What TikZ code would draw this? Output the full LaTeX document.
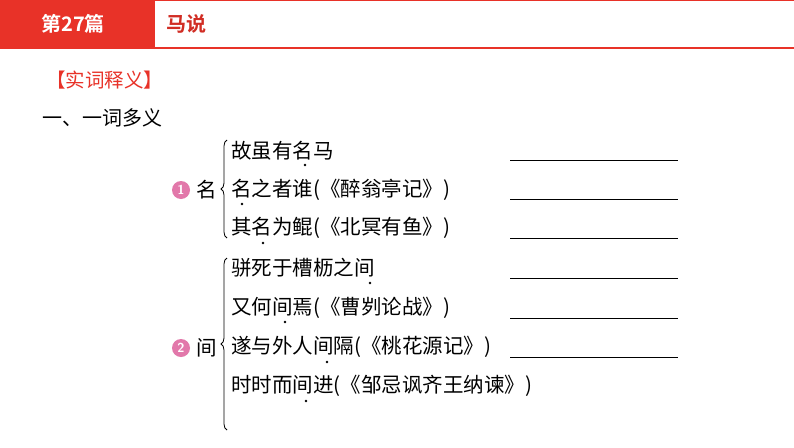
\documentclass[tikz,border=0pt]{standalone}
\usepackage{fontspec}
\newfontfamily\cjk{Noto Sans CJK SC}
\newfontfamily\cjkb{Noto Sans CJK SC Bold}
\usetikzlibrary{decorations.pathreplacing}
\definecolor{hred}{RGB}{232,50,40}
\definecolor{pinkc}{RGB}{226,120,170}
\tikzset{
  row/.style={anchor=west,inner sep=0pt,font=\cjk\fontsize{20.5}{20.5}\selectfont},
  dotm/.style={circle,fill=black,inner sep=0pt,minimum size=2.6pt},
  ans/.style={line width=0.8pt},
  numc/.style={circle,fill=pinkc,text=white,inner sep=0pt,minimum size=18pt,font=\sffamily\bfseries\fontsize{13}{13}\selectfont},
  brc/.style={decorate,decoration={brace,amplitude=6pt},line width=0.8pt}
}
\begin{document}
\begin{tikzpicture}[x=1pt,y=-1pt]
\useasboundingbox (0,0) rectangle (794,447);
\fill[white] (0,0) rectangle (794,447);
\fill[hred] (0,0) rectangle (155,48);
\draw[hred,line width=1.2pt] (155,0.6) -- (794,0.6) (0,48) -- (794,48);
\node[text=white,font=\cjkb\fontsize{20}{20}\selectfont] (t1) at (73,24) {第27篇};
\node[anchor=west,text=hred!90!black,font=\cjkb\fontsize{20}{20}\selectfont] (t2) at (163,24) {马说};
\node[anchor=west,inner sep=0pt,text=hred,font=\cjk\fontsize{19.5}{19.5}\selectfont] (h1) at (46,80) {【实词释义】};
\node[anchor=west,inner sep=0pt,font=\cjk\fontsize{20}{20}\selectfont] (h2) at (42,118) {一、一词多义};
% group 1
\node[numc] (c1) at (181,190) {1};
\node[anchor=west,inner sep=0pt,font=\cjk\fontsize{20.5}{20.5}\selectfont] (m) at (196,190) {名};
\draw[brc] (227,238) -- (227,140);
\node[row] (r1) at (231,151) {故虽有名马};
\node[row] (r2) at (231,190) {名之者谁(《醉翁亭记》)};
\node[row] (r3) at (231,228) {其名为鲲(《北冥有鱼》)};
% group 2
\node[numc] (c2) at (181,348) {2};
\node[anchor=west,inner sep=0pt,font=\cjk\fontsize{20.5}{20.5}\selectfont] (j) at (196,348) {间};
\draw[brc] (227,430) -- (227,258);
\node[row] (r4) at (231,268) {骈死于槽枥之间};
\node[row] (r5) at (231,308) {又何间焉(《曹刿论战》)};
\node[row] (r6) at (231,347) {遂与外人间隔(《桃花源记》)};
\node[row] (r7) at (231,386) {时时而间进(《邹忌讽齐王纳谏》)};
% emphasis dots
\node[dotm] (d1) at (305,165) {};
\node[dotm] (d2) at (242,204) {};
\node[dotm] (d3) at (263,243) {};
\node[dotm] (d4) at (370,283) {};
\node[dotm] (d5) at (285,322) {};
\node[dotm] (d6) at (327,362) {};
\node[dotm] (d7) at (306,401) {};
% answer lines
\foreach \i/\y in {1/160,2/199,3/238,4/278,5/318,6/357}{
  \coordinate (a\i) at (510,\y); \coordinate (b\i) at (678,\y);
  \draw[ans] (a\i) -- (b\i);
}
\end{tikzpicture}
\end{document}
